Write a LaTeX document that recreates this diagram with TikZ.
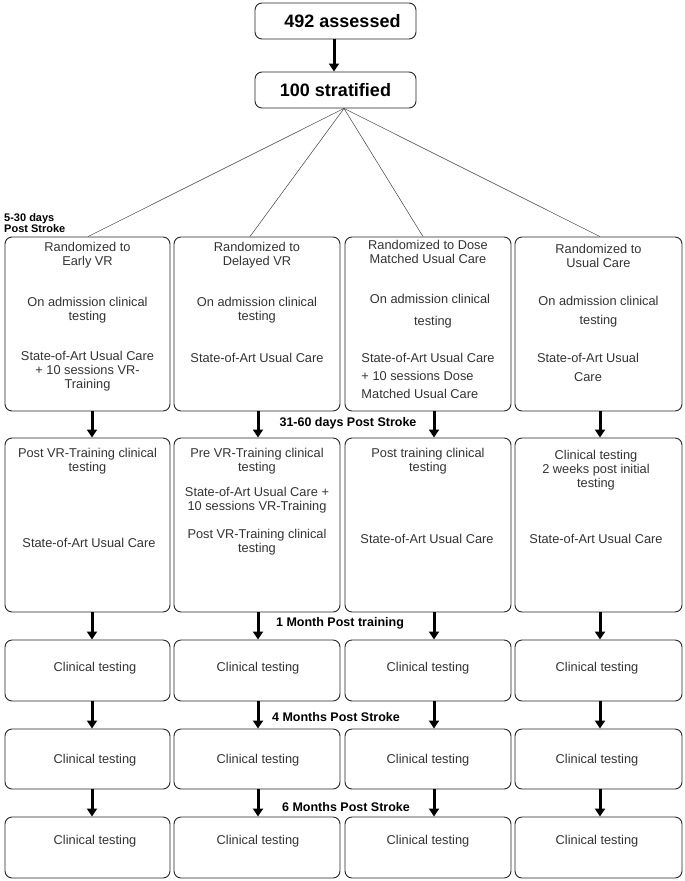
\documentclass[tikz,border=0pt]{standalone}
\usepackage{fontspec}
\setmainfont{Liberation Sans}
\usetikzlibrary{arrows.meta}
\definecolor{txt}{HTML}{333333}
\begin{document}
\begin{tikzpicture}[x=1pt,y=-1pt,
  box/.style={draw=black!85,line width=0.9pt,rounded corners=7pt,inner sep=0pt},
  tx/.style={text=txt,align=center,inner sep=0pt,font=\fontsize{12.8}{14}\selectfont},
  lab/.style={text=black,font=\bfseries\fontsize{12.5}{12}\selectfont,inner sep=0pt},
  big/.style={font=\bfseries\fontsize{18}{18}\selectfont},
  arr/.style={line width=3pt,-{Triangle[length=8pt,width=10pt]}},
  fan/.style={line width=0.5pt,black!75}]
\useasboundingbox (0,0) rectangle (685,881);
% top boxes
\node[box,minimum width=161pt,minimum height=36pt,big] (ass) at (335.5,21) {\hspace*{14pt}492 assessed};
\node[box,minimum width=161pt,minimum height=36pt,big] (str) at (335.5,90) {100 stratified};
\draw[arr] ([xshift=-1.5pt]ass.south) -- ([xshift=-1.5pt]str.north);
% column boxes
\foreach \c/\x/\w in {1/87.5/165,2/257/166,3/428/166,4/598.5/167}{
  \foreach \r/\y/\h in {1/324/174,2/525/174,3/670.5/61,4/759/60,5/847.5/61}{
    \node[box,minimum width=\w pt,minimum height=\h pt] (r\r c\c) at (\x,\y) {};
  }}
% fan lines
\draw[fan] ([xshift=8.5pt]str.south) -- ([xshift=0.5pt]r1c1.north);
\draw[fan] ([xshift=8.5pt]str.south) -- ([xshift=-7pt]r1c2.north);
\draw[fan] ([xshift=8.5pt]str.south) -- ([xshift=-5pt]r1c3.north);
\draw[fan] ([xshift=8.5pt]str.south) -- ([xshift=1.5pt]r1c4.north);
% arrows
\foreach \c/\d in {1/4.5,2/1,3/6,4/1.5}{
  \foreach \a/\b in {1/2,2/3,3/4,4/5}{
    \draw[arr] ([xshift=\d pt]r\a c\c.south) -- ([xshift=\d pt]r\b c\c.north);
  }}
% stage labels
\node[lab,align=left,anchor=west,font=\bfseries\fontsize{11}{11}\selectfont] (l0) at (4,223) {5-30 days\\Post Stroke};
\node[lab] (l1) at (348,423) {31-60 days Post Stroke};
\node[lab] (l2) at (340,623) {1 Month Post training};
\node[lab] (l3) at (336,717) {4 Months Post Stroke};
\node[lab] (l4) at (346,807) {6 Months Post Stroke};
% row 1 texts
\node[tx] (t11) at (87.5,255.5) {Randomized to\\Early VR};
\node[tx] (t12) at (87.5,310.5) {On admission clinical\\testing};
\node[tx] (t13) at (87.5,371) {State-of-Art Usual Care\\+ 10 sessions VR-\\Training};
\node[tx] (t21) at (257,255.5) {Randomized to\\Delayed VR};
\node[tx] (t22) at (257,310.5) {On admission clinical\\testing};
\node[tx] (t23) at (257,358) {State-of-Art Usual Care};
\node[tx] (t31) at (428,251.5) {Randomized to Dose\\Matched Usual Care};
\node[tx,font=\fontsize{12.8}{22}\selectfont] (t32) at (430,311) {On admission clinical\\\hspace*{6pt}testing};
\node[tx,align=left,font=\fontsize{12.8}{18}\selectfont] (t33) at (428,376) {State-of-Art Usual Care\\+ 10 sessions Dose\\Matched Usual Care};
\node[tx] (t41) at (598.5,255.5) {Randomized to\\Usual Care};
\node[tx,font=\fontsize{12.8}{19}\selectfont] (t42) at (598.5,311.5) {On admission clinical\\testing};
\node[tx,font=\fontsize{12.8}{19}\selectfont] (t43) at (588,367.5) {State-of-Art Usual\\Care};
% row 2 texts
\node[tx] (u11) at (87.5,461.5) {Post VR-Training clinical\\testing};
\node[tx] (u12) at (89,543) {State-of-Art Usual Care};
\node[tx] (u21) at (257,461.5) {Pre VR-Training clinical\\testing};
\node[tx] (u22) at (257,500.5) {State-of-Art Usual Care +\\10 sessions VR-Training};
\node[tx] (u23) at (257,542.5) {Post VR-Training clinical\\testing};
\node[tx] (u31) at (428,461.5) {Post training clinical\\testing};
\node[tx] (u32) at (427,539) {State-of-Art Usual Care};
\node[tx] (u41) at (596,470) {Clinical testing\\2 weeks post initial\\testing};
\node[tx] (u42) at (596,539) {State-of-Art Usual Care};
% clinical testing rows
\foreach \c/\x in {1/95,2/258,3/428,4/597}{
  \node[tx] (ct3\c) at (\x,668) {Clinical testing};
  \node[tx] (ct4\c) at (\x,760) {Clinical testing};
  \node[tx] (ct5\c) at (\x,841) {Clinical testing};
}
\end{tikzpicture}
\end{document}
